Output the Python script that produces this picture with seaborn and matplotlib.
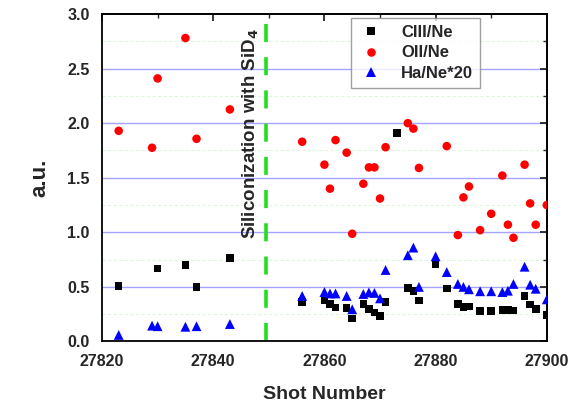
import numpy as np
import pandas as pd
import matplotlib
matplotlib.use("Agg")
import matplotlib.pyplot as plt
import seaborn as sns
from matplotlib.ticker import MultipleLocator

# ---- data ----
c3_shot = [27823, 27830, 27835, 27837, 27843,
           27856, 27860, 27861, 27862, 27864, 27865, 27867, 27868, 27869, 27870, 27871,
           27873, 27875, 27876, 27877, 27880, 27882, 27884, 27885, 27886, 27888, 27890,
           27892, 27893, 27894, 27896, 27897, 27898, 27900]
c3_val = [0.51, 0.67, 0.70, 0.50, 0.767,
          0.36, 0.377, 0.343, 0.31, 0.307, 0.21, 0.343, 0.30, 0.267, 0.236, 0.36,
          1.91, 0.49, 0.465, 0.377, 0.707, 0.487, 0.346, 0.316, 0.32, 0.279, 0.279,
          0.29, 0.29, 0.285, 0.417, 0.34, 0.295, 0.24]

o2_shot = [27823, 27829, 27830, 27835, 27837, 27843,
           27856, 27860, 27861, 27862, 27864, 27865, 27867, 27868, 27869, 27870, 27871,
           27875, 27876, 27877, 27882, 27884, 27885, 27886, 27888, 27890, 27892, 27893,
           27894, 27896, 27897, 27898, 27900]
o2_val = [1.93, 1.775, 2.41, 2.78, 1.857, 2.126,
          1.83, 1.62, 1.40, 1.845, 1.73, 0.987, 1.445, 1.595, 1.595, 1.31, 1.78,
          2.00, 1.95, 1.59, 1.79, 0.975, 1.32, 1.42, 1.02, 1.17, 1.52, 1.07,
          0.95, 1.62, 1.265, 1.07, 1.25]

ha_shot = [27823, 27829, 27830, 27835, 27837, 27843,
           27856, 27860, 27861, 27862, 27864, 27865, 27867, 27868, 27869, 27870, 27871,
           27875, 27876, 27877, 27880, 27882, 27884, 27885, 27886, 27888, 27890, 27892,
           27893, 27894, 27896, 27897, 27898, 27900]
ha_val = [0.06, 0.145, 0.14, 0.135, 0.14, 0.16,
          0.417, 0.453, 0.44, 0.44, 0.417, 0.295, 0.435, 0.45, 0.445, 0.395, 0.655,
          0.79, 0.86, 0.50, 0.78, 0.636, 0.527, 0.50, 0.478, 0.46, 0.46, 0.453,
          0.465, 0.527, 0.685, 0.52, 0.483, 0.386]

labels = ["CIII/Ne", "OII/Ne", "Ha/Ne*20"]
silic_shot = 27849.5

df = pd.concat([
    pd.DataFrame({"shot": c3_shot, "val": c3_val, "series": labels[0]}),
    pd.DataFrame({"shot": o2_shot, "val": o2_val, "series": labels[1]}),
    pd.DataFrame({"shot": ha_shot, "val": ha_val, "series": labels[2]}),
])

sns.set_theme(style="white")
plt.rcParams["font.family"] = ["Liberation Sans", "DejaVu Sans"]
plt.rcParams["font.weight"] = "bold"

fig = plt.figure(figsize=(5.75, 4.05), dpi=100)
ax = fig.add_axes([0.1774, 0.1568, 0.951 - 0.1774, 0.9654 - 0.1568])

# gridlines
for y in np.arange(0.25, 3.0, 0.5):
    ax.axhline(y, color="#dcf7dc", lw=0.8, ls=(0, (3, 2)), zorder=0)
for y in np.arange(0.5, 3.0, 0.5):
    ax.axhline(y, color="#a4a4ff", lw=1.0, zorder=0)

sns.scatterplot(data=df, x="shot", y="val", hue="series", style="series", size="series",
                hue_order=labels, style_order=labels, size_order=labels,
                sizes={labels[0]: 30, labels[1]: 38, labels[2]: 50},
                palette=["black", "#ff0000", "#0000ff"],
                markers=["s", "o", "^"], linewidth=0, ax=ax, zorder=3)

ax.axvline(silic_shot, color="#22dd22", lw=2.6, ls=(0, (5, 4.2)), zorder=2)
ax.text(silic_shot - 2.8, 1.9, "Siliconization with SiD$_\\mathbf{4}$", rotation=90,
        ha="center", va="center", fontsize=13.5, fontweight="bold")

ax.set_xlim(27820, 27900)
ax.set_ylim(0, 3.0)
ax.xaxis.set_major_locator(MultipleLocator(20))
ax.xaxis.set_minor_locator(MultipleLocator(10))
ax.yaxis.set_major_locator(MultipleLocator(0.5))
ax.yaxis.set_minor_locator(MultipleLocator(0.25))
ax.yaxis.set_major_formatter(matplotlib.ticker.FormatStrFormatter("%.1f"))

ax.tick_params(axis="both", which="major", direction="out", length=5, width=1.3,
               labelsize=11.5, pad=4)
ax.tick_params(axis="both", which="minor", direction="out", length=3, width=1.0)
for lab in ax.get_xticklabels() + ax.get_yticklabels():
    lab.set_fontweight("bold")

# top/right ticks inward
axt = ax.secondary_xaxis("top")
axt.xaxis.set_major_locator(MultipleLocator(20))
axt.xaxis.set_minor_locator(MultipleLocator(10))
axt.tick_params(which="major", direction="in", length=5, width=1.3, labeltop=False)
axt.tick_params(which="minor", direction="in", length=3, width=1.0)
axr = ax.secondary_yaxis("right")
axr.yaxis.set_major_locator(MultipleLocator(0.5))
axr.yaxis.set_minor_locator(MultipleLocator(0.25))
axr.tick_params(which="major", direction="in", length=5, width=1.3, labelright=False)
axr.tick_params(which="minor", direction="in", length=3, width=1.0)
ax.tick_params(top=False, right=False, which="both")

for sp in ax.spines.values():
    sp.set_linewidth(1.3)
    sp.set_color("black")
for a in (axt, axr):
    for sp in a.spines.values():
        sp.set_linewidth(1.3)

ax.set_xlabel("Shot Number", fontsize=14, fontweight="bold", labelpad=12)
ax.set_ylabel("a.u.", fontsize=16, fontweight="bold")
ax.yaxis.set_label_coords(-0.115, 0.5)

handles, labs = ax.get_legend_handles_labels()
leg = ax.legend(handles, labs, loc="upper left", bbox_to_anchor=(351 / 575, 1 - 18 / 405),
                bbox_transform=fig.transFigure, borderaxespad=0, frameon=True, fancybox=False,
                edgecolor="#888888", fontsize=12, handletextpad=1.0, borderpad=0.4,
                labelspacing=0.35, handlelength=1.6)
leg.get_frame().set_linewidth(1.0)
for t in leg.get_texts():
    t.set_fontweight("bold")

fig.savefig("out.png", dpi=100)
